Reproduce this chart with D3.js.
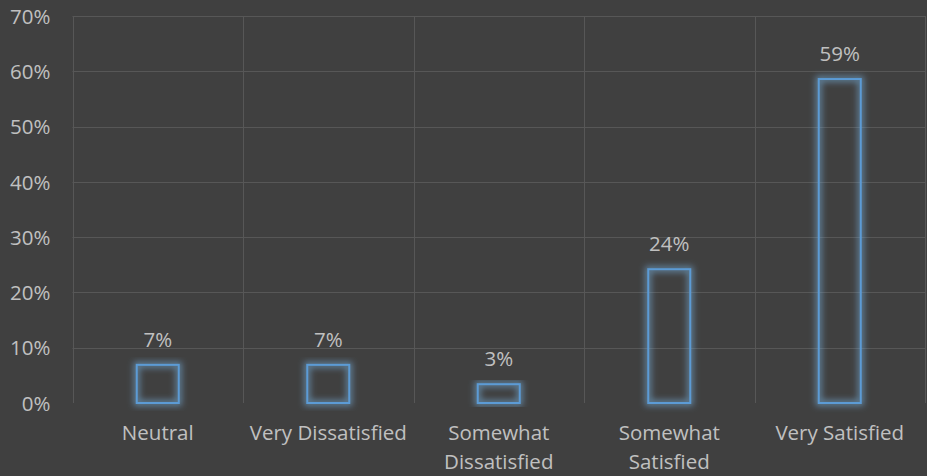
<!DOCTYPE html>
<html><head><meta charset="utf-8">
<script src="https://cdn.jsdelivr.net/npm/d3@7"></script>
<style>
html,body{margin:0;padding:0;background:#404040;}
svg{display:block;}
text{font-family:"Open Sans","Noto Sans",sans-serif;}
</style></head>
<body>
<svg id="chart" width="927" height="476"></svg>
<script>
const categories = ["Neutral", "Very Dissatisfied", "Somewhat Dissatisfied", "Somewhat Satisfied", "Very Satisfied"];
const values = [0.069, 0.069, 0.034, 0.242, 0.586];
const valueLabels = ["7%", "7%", "3%", "24%", "59%"];
const yTicks = [0, 0.1, 0.2, 0.3, 0.4, 0.5, 0.6, 0.7];

const W = 927, H = 476;
const m = {left: 72.5, right: 2, top: 16, bottom: 73};
const FS = "20.5px";
const svg = d3.select("#chart");
svg.append("rect").attr("width", W).attr("height", H).attr("fill", "#404040");

const defs = svg.append("defs");
const f = defs.append("filter").attr("id", "glow").attr("x", "-50%").attr("y", "-20%").attr("width", "200%").attr("height", "140%");
f.append("feMorphology").attr("in", "SourceGraphic").attr("operator", "dilate").attr("radius", 1.5).attr("result", "d");
f.append("feGaussianBlur").attr("in", "d").attr("stdDeviation", 3.2).attr("result", "b");
f.append("feColorMatrix").attr("in", "b").attr("type", "matrix")
  .attr("values", "0 0 0 0 0.18  0 0 0 0 0.42  0 0 0 0 0.70  0 0 0 0.6 0").attr("result", "b2");
const mg = f.append("feMerge");
mg.append("feMergeNode").attr("in", "b2");
mg.append("feMergeNode").attr("in", "SourceGraphic");

const x = d3.scaleBand().domain(categories).range([m.left, W - m.right]).paddingInner(0).paddingOuter(0);
const y = d3.scaleLinear().domain([0, 0.7]).range([H - m.bottom, m.top]);

const grid = svg.append("g").attr("stroke", "#575757").attr("stroke-width", 1);
grid.selectAll("line.h").data(yTicks.slice(1)).join("line")
  .attr("x1", m.left).attr("x2", W - m.right)
  .attr("y1", d => Math.round(y(d)) + 0.5).attr("y2", d => Math.round(y(d)) + 0.5);
const bounds = categories.map(c => x(c)).concat([x(categories[categories.length-1]) + x.bandwidth()]);
grid.selectAll("line.v").data(bounds).join("line")
  .attr("x1", d => Math.round(d) + 0.5).attr("x2", d => Math.round(d) + 0.5)
  .attr("y1", y(0.7)).attr("y2", y(0));

const yAxis = d3.axisLeft(y).tickValues(yTicks).tickFormat(d3.format(".0%")).tickSize(0).tickPadding(22);
const ya = svg.append("g").attr("transform", `translate(${m.left},0)`).call(yAxis);
ya.select(".domain").remove();
ya.selectAll("text").attr("fill", "#c0c0c0").style("font-size", FS).attr("dy", "0.35em");

const bw = 42;
svg.append("g").selectAll("rect").data(values).join("rect")
  .attr("x", (d, i) => x(categories[i]) + x.bandwidth() / 2 - bw / 2)
  .attr("y", d => y(d))
  .attr("width", bw)
  .attr("height", d => y(0) - y(d))
  .attr("fill", "none")
  .attr("stroke", "#5b9bd5")
  .attr("stroke-width", 2)
  .attr("filter", "url(#glow)");

svg.append("g").selectAll("text").data(values).join("text")
  .attr("x", (d, i) => x(categories[i]) + x.bandwidth() / 2)
  .attr("y", d => y(d) - 18)
  .attr("text-anchor", "middle")
  .attr("fill", "#c0c0c0")
  .style("font-size", FS)
  .text((d, i) => valueLabels[i]);

// category labels, wrapped
const xa = svg.append("g");
categories.forEach((c, i) => {
  const cx = x(c) + x.bandwidth() / 2;
  const words = c.split(" ");
  let lines = [c];
  const t = xa.append("text").attr("text-anchor", "middle").attr("fill", "#c0c0c0").style("font-size", FS);
  t.text(c);
  if (t.node().getComputedTextLength() > x.bandwidth() - 4 && words.length > 1) {
    lines = [words.slice(0, -1).join(" "), words[words.length - 1]];
  }
  t.text(null);
  lines.forEach((l, j) => {
    t.append("tspan").attr("x", cx).attr("y", 440 + j * 29).text(l);
  });
});
</script>
</body></html>
